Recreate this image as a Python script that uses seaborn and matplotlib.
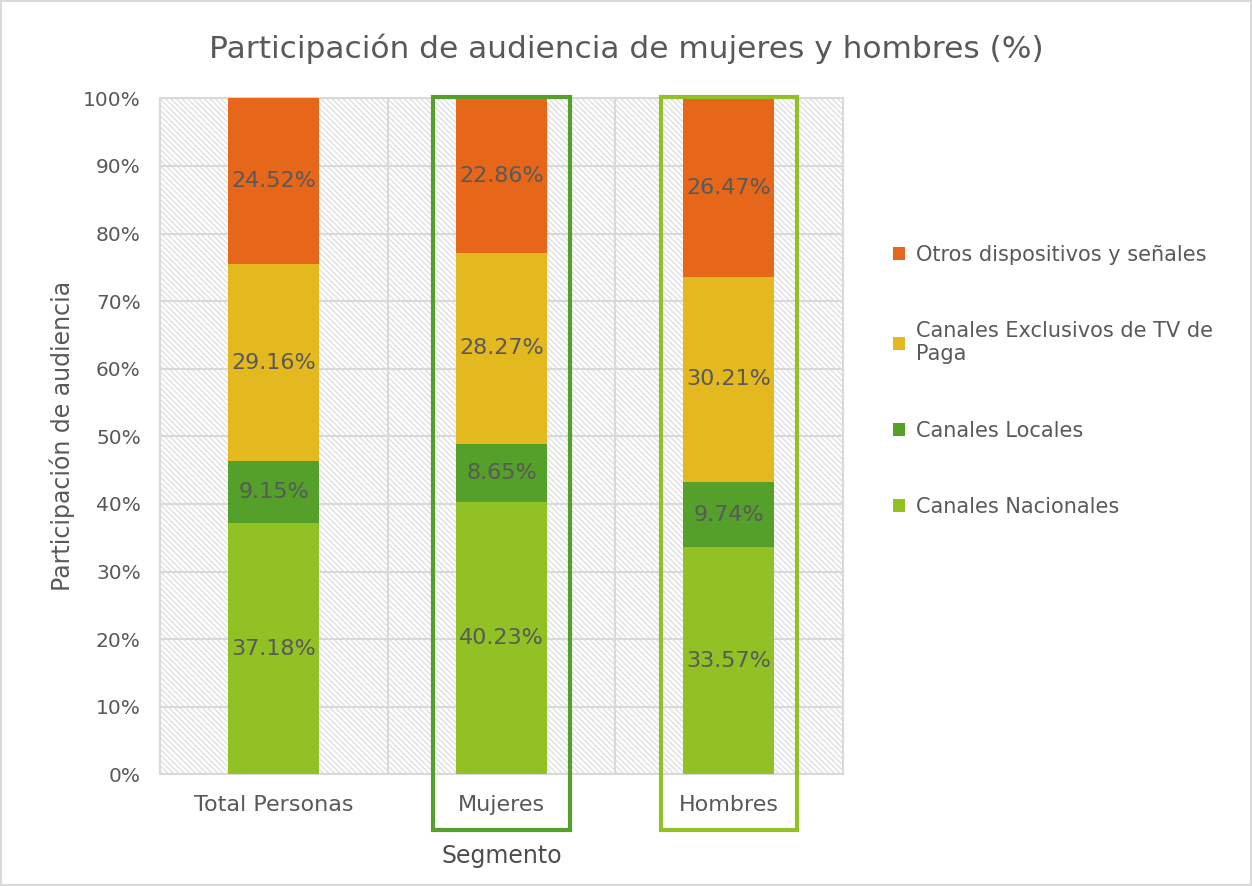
"""
Stacked bar chart: audience share of women and men by channel type
"""

import matplotlib
matplotlib.use("Agg")
import matplotlib.pyplot as plt
import matplotlib.transforms as mtransforms
from matplotlib.patches import Rectangle, Patch
import numpy as np
import pandas as pd
import seaborn as sns

# Data (percent)
segmentos = ["Total Personas", "Mujeres", "Hombres"]
nacionales = [37.18, 40.23, 33.57]
locales = [9.15, 8.65, 9.74]
exclusivos = [29.16, 28.27, 30.21]
otros = [24.52, 22.86, 26.47]

series_names = ["Canales Nacionales", "Canales Locales",
                "Canales Exclusivos de TV de\nPaga", "Otros dispositivos y señales"]
series_colors = ["#92C125", "#55A02A", "#E4B91F", "#E66719"]

TEXT = "#595959"


def main():
    sns.set_theme(style="white")
    plt.rcParams["font.family"] = ["DejaVu Sans"]
    plt.rcParams["hatch.linewidth"] = 1.0

    fig = plt.figure(figsize=(12.52, 8.86), dpi=100)
    fig.patch.set_edgecolor("#D9D9D9")
    fig.patch.set_linewidth(1.5)
    ax = fig.add_axes([0.128, 0.126, 0.545, 0.763])

    # Hatched background of the plot area
    ax.add_patch(Rectangle((0, 0), 1, 1, transform=ax.transAxes, facecolor="white",
                           edgecolor="#E0E0E0", linewidth=0, hatch="\\" * 6, zorder=0))

    layers = [nacionales, locales, exclusivos, otros]
    cum = np.cumsum(np.array(layers), axis=0)

    # Draw cumulative bars from top layer down so each layer shows its own segment
    for i in range(len(layers) - 1, -1, -1):
        df = pd.DataFrame({"segmento": segmentos, "valor": cum[i]})
        sns.barplot(data=df, x="segmento", y="valor", color=series_colors[i],
                    saturation=1, width=0.40, linewidth=0, ax=ax, zorder=3)

    # Segment labels
    for i, vals in enumerate(layers):
        for j, v in enumerate(vals):
            center = cum[i][j] - v / 2
            ax.text(j, center, f"{v:.2f}%", ha="center", va="center",
                    fontsize=16, color=TEXT, zorder=5)

    ax.set_ylim(0, 100)
    ax.set_xlim(-0.5, 2.5)
    ax.set_yticks(np.arange(0, 101, 10))
    ax.set_yticklabels([f"{t}%" for t in range(0, 101, 10)])
    ax.set_xticks(range(len(segmentos)))
    ax.set_xticks([0.5, 1.5], minor=True)
    ax.grid(axis="y", color="#D9D9D9", linewidth=1.5, zorder=1)
    ax.grid(axis="x", which="minor", color="#D9D9D9", linewidth=1.5, zorder=1)
    ax.set_axisbelow(True)
    ax.tick_params(axis="y", colors=TEXT, labelsize=14.5, length=0, pad=14)
    ax.tick_params(axis="x", colors=TEXT, labelsize=16, length=0, pad=15)
    for s in ax.spines.values():
        s.set_color("#D9D9D9")
        s.set_linewidth(1.5)

    ax.set_ylabel("Participación de audiencia", fontsize=17, color=TEXT, labelpad=6)
    ax.set_xlabel("Segmento", fontsize=17, color="#4D4D4D", labelpad=21)

    # Highlight boxes around Mujeres and Hombres
    trans = mtransforms.blended_transform_factory(ax.transData, ax.transAxes)
    for idx, col in [(1, "#55A02A"), (2, "#92C125")]:
        ax.add_patch(Rectangle((idx - 0.30, -0.083), 0.60, 1.085, transform=trans,
                               fill=False, edgecolor=col, linewidth=3,
                               clip_on=False, zorder=6))

    fig.text(0.5, 0.945, "Participación de audiencia de mujeres y hombres (%)",
             ha="center", va="center", fontsize=22.5, color=TEXT)

    handles = [Patch(facecolor=c, edgecolor="none") for c in series_colors]
    fig.legend(handles[::-1], series_names[::-1], loc="center left",
               bbox_to_anchor=(0.698, 0.57), frameon=False, fontsize=15,
               labelcolor=TEXT, handlelength=0.6, handleheight=0.6,
               handletextpad=0.5, labelspacing=2.7)

    fig.savefig("out.png", dpi=100)


if __name__ == "__main__":
    main()
